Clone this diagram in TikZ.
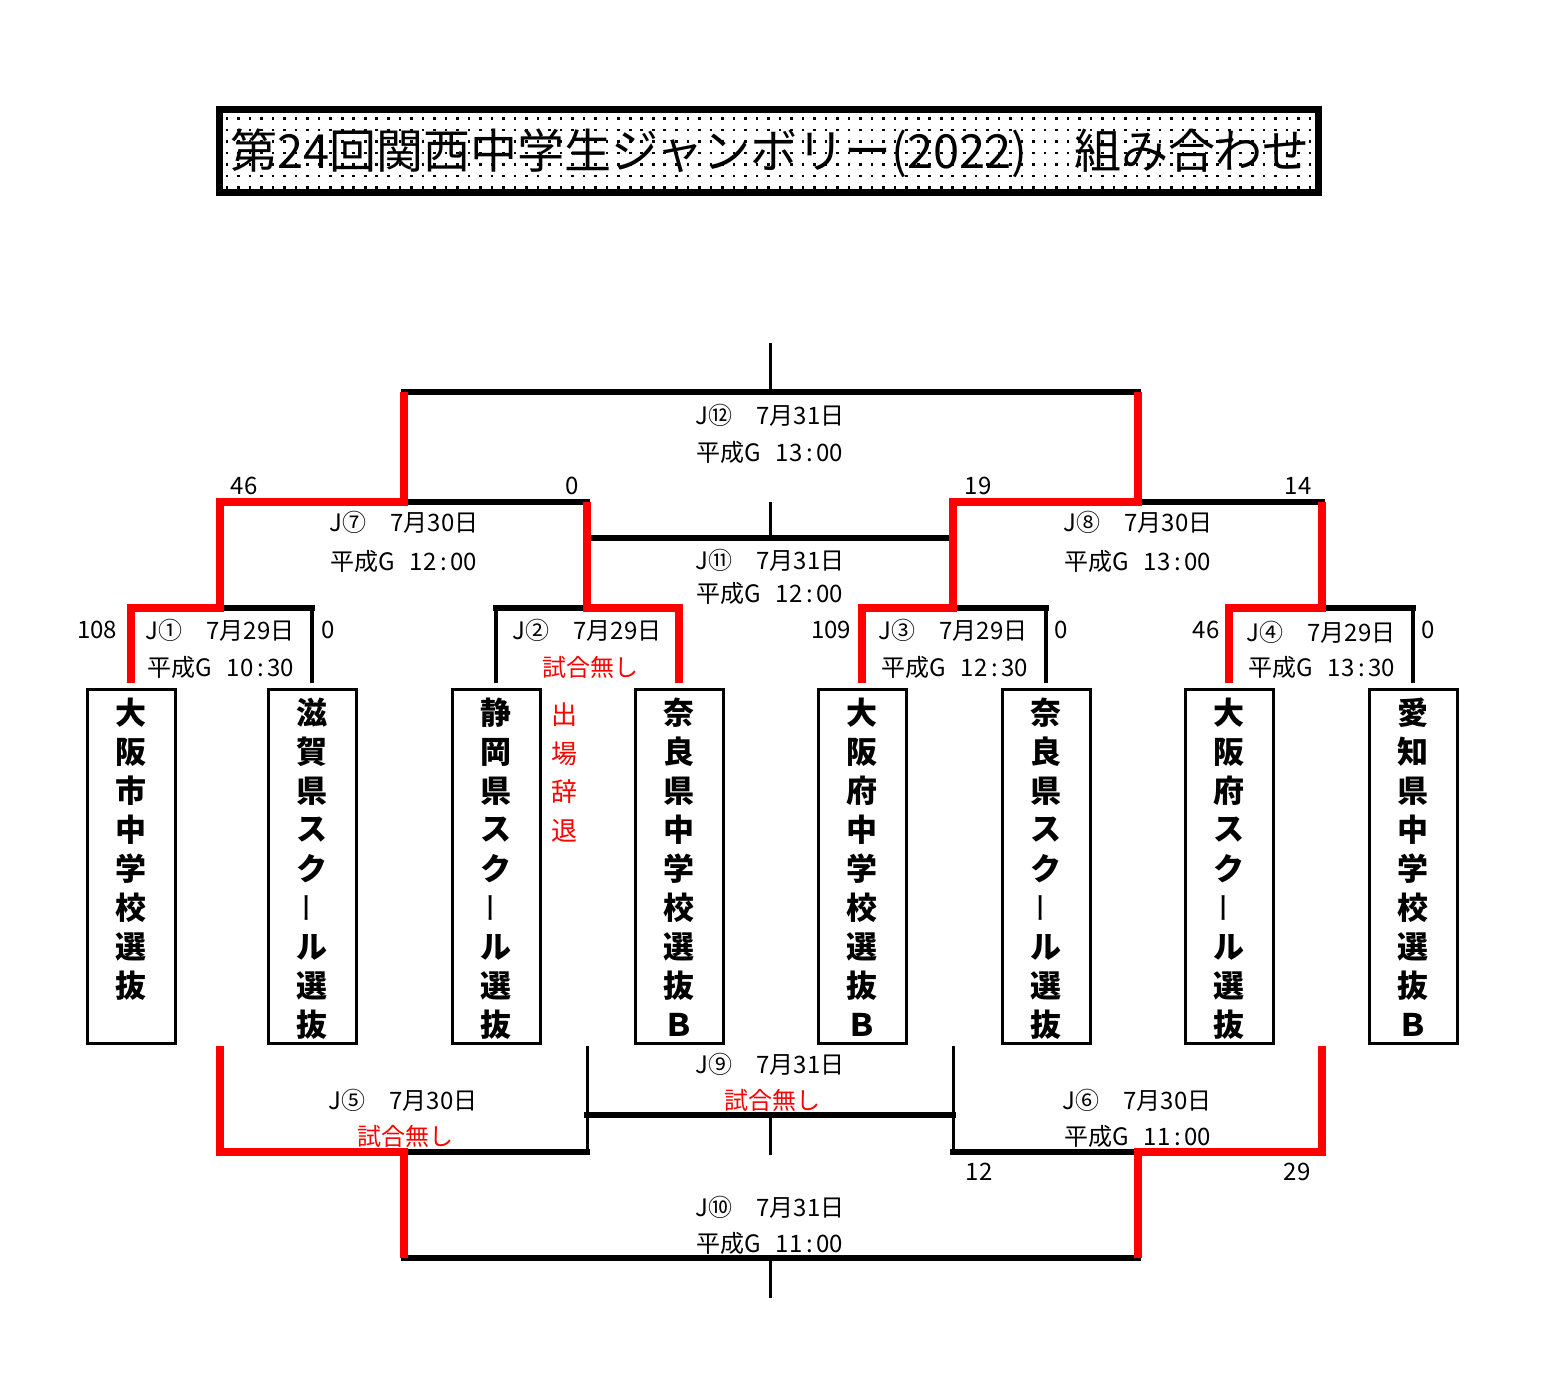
\documentclass[tikz,border=0pt]{standalone}
\usepackage{fontspec}
\setmainfont{Noto Sans CJK JP}
\definecolor{bred}{RGB}{255,0,0}
\newcommand{\heisei}[2]{平成G\hspace{0.6em}#1\kern0.15em:\kern0.15em#2}
\newcommand{\vbar}{{\mdseries\rotatebox{90}{ー}}}
\begin{document}
\begin{tikzpicture}[x=0.5pt,y=-0.5pt,
  rl/.style={draw=bred,line width=4pt,line join=miter},
  bar/.style={draw=black,line width=3pt,line cap=rect},
  bv/.style={draw=black,line width=2pt},
  th/.style={draw=black,line width=1.5pt},
  lbl/.style={font=\fontsize{12pt}{14pt}\selectfont,inner sep=0pt},
  rlbl/.style={lbl,text=bred},
  teambox/.style={draw,line width=1.5pt,minimum width=44pt,minimum height=177pt,inner sep=0pt},
  tch/.style={font=\fontsize{15.5pt}{16pt}\selectfont\bfseries,inner sep=0pt},
  wch/.style={font=\fontsize{13pt}{14pt}\selectfont,inner sep=0pt,text=bred},
]
\useasboundingbox (0,0) rectangle (1544,1395);
% ---------- title ----------
\foreach \xx in {0,...,94}{\foreach \yy in {0,...,6}{
  \fill ({227+11.52*\xx-1.3},{118.5+11.5*\yy-1.3}) rectangle ++(2.6,2.6);}}
\draw[line width=3.5pt] (219.5,109.5) rectangle (1318.5,192.5);
\node[font=\fontsize{23.5pt}{24pt}\selectfont,inner sep=0pt] (title) at (770,153)
  {第24回関西中学生ジャンボリー(2022)　組み合わせ};
% ---------- team boxes ----------
\node[teambox] (b1) at (131,867) {};
\node[teambox] (b2) at (312,867) {};
\node[teambox] (b3) at (496,867) {};
\node[teambox] (b4) at (679,867) {};
\node[teambox] (b5) at (862,867) {};
\node[teambox] (b6) at (1046,867) {};
\node[teambox] (b7) at (1229,867) {};
\node[teambox] (b8) at (1413,867) {};
\foreach \c [count=\i] in {大,阪,市,中,学,校,選,抜}
  \node[tch] (ta\i) at (131,{713+39*(\i-1)}) {\c};
\foreach \c [count=\i] in {滋,賀,県,ス,ク,\vbar,ル,選,抜}
  \node[tch] (tb\i) at (312,{713+39*(\i-1)}) {\c};
\foreach \c [count=\i] in {静,岡,県,ス,ク,\vbar,ル,選,抜}
  \node[tch] (tc\i) at (496,{713+39*(\i-1)}) {\c};
\foreach \c [count=\i] in {奈,良,県,中,学,校,選,抜,Ｂ}
  \node[tch] (td\i) at (679,{713+39*(\i-1)}) {\c};
\foreach \c [count=\i] in {大,阪,府,中,学,校,選,抜,Ｂ}
  \node[tch] (te\i) at (862,{713+39*(\i-1)}) {\c};
\foreach \c [count=\i] in {奈,良,県,ス,ク,\vbar,ル,選,抜}
  \node[tch] (tf\i) at (1046,{713+39*(\i-1)}) {\c};
\foreach \c [count=\i] in {大,阪,府,ス,ク,\vbar,ル,選,抜}
  \node[tch] (tg\i) at (1229,{713+39*(\i-1)}) {\c};
\foreach \c [count=\i] in {愛,知,県,中,学,校,選,抜,Ｂ}
  \node[tch] (th\i) at (1413,{713+39*(\i-1)}) {\c};
\foreach \c [count=\i] in {出,場,辞,退}
  \node[wch] (wd\i) at (564,{715+38.5*(\i-1)}) {\c};
% ---------- coordinates ----------
\coordinate (top) at (770,343);
\coordinate (j12) at (770,392);
\coordinate (j7) at (404,502);
\coordinate (j8) at (1138,502);
\coordinate (j11t) at (770,502);
\coordinate (j11) at (770,538);
\coordinate (j1) at (220,608);
\coordinate (j2) at (587,608);
\coordinate (j3) at (953,608);
\coordinate (j4) at (1322,608);
\coordinate (q5l) at (220,1046);
\coordinate (q5r) at (587,1046);
\coordinate (q6l) at (953,1046);
\coordinate (q6r) at (1322,1046);
\coordinate (j9) at (770,1115);
\coordinate (j9b) at (770,1155);
\coordinate (j5) at (404,1152);
\coordinate (j6) at (1138,1152);
\coordinate (j10) at (770,1258);
\coordinate (j10b) at (770,1298);
% ---------- black lines ----------
\draw[th] (top) -- (j12);
\draw[bar] (j7 |- j12) -- (j8 |- j12);
\draw[bar] (j1 |- j7) -- (j2 |- j7);
\draw[bar] (j3 |- j8) -- (j4 |- j8);
\draw[th] (j11t) -- (j11);
\draw[bar] (j2 |- j11) -- (j3 |- j11);
\draw[bar] (b1 |- j1) -- (b2 |- j1);
\draw[bar] (b3 |- j2) -- (b4 |- j2);
\draw[bar] (b5 |- j3) -- (b6 |- j3);
\draw[bar] (b7 |- j4) -- (b8 |- j4);
\draw[bv,shorten <=2.5pt] (b2.north) -- (b2 |- j1);
\draw[bv,shorten <=2.5pt] (b3.north) -- (b3 |- j2);
\draw[bv,shorten <=2.5pt] (b6.north) -- (b6 |- j3);
\draw[bv,shorten <=2.5pt] (b8.north) -- (b8 |- j4);
% bottom
\draw[th] (q5r) -- (q5r |- j5);
\draw[th] (q6l) -- (q6l |- j6);
\draw[bar] (q5r |- j9) -- (q6l |- j9);
\draw[th] (j9) -- (j9b);
\draw[bar] (q5l |- j5) -- (q5r |- j5);
\draw[bar] (q6l |- j6) -- (q6r |- j6);
\draw[bar] (j5 |- j10) -- (j6 |- j10);
\draw[th] (j10) -- (j10b);
% ---------- red lines ----------
\draw[rl,shorten <=2.5pt] (b1.north) |- (j1) |- (j7) -- (j7 |- j12);
\draw[rl,shorten <=2.5pt] (b4.north) |- (j2) -- (j2 |- j7);
\draw[rl,shorten <=2.5pt] (b5.north) |- (j3) |- (j8) -- (j8 |- j12);
\draw[rl,shorten <=2.5pt] (b7.north) |- (j4) -- (j4 |- j8);
\draw[rl] (q5l) |- (j5) -- (j5 |- j10);
\draw[rl] (q6r) |- (j6) -- (j6 |- j10);
% ---------- labels ----------
\node[lbl] (l12a) at (770,415) {J⑫　7月31日};
\node[lbl] (l12b) at (770,452) {\heisei{13}{00}};
\node[lbl] (l11a) at (770,560) {J⑪　7月31日};
\node[lbl] (l11b) at (770,593) {\heisei{12}{00}};
\node[lbl] (l7a) at (404,522) {J⑦　7月30日};
\node[lbl] (l7b) at (404,561) {\heisei{12}{00}};
\node[lbl] (l8a) at (1138,522) {J⑧　7月30日};
\node[lbl] (l8b) at (1138,561) {\heisei{13}{00}};
\node[lbl] (l1a) at (220,630) {J①　7月29日};
\node[lbl] (l1b) at (221,667) {\heisei{10}{30}};
\node[lbl] (l2a) at (587,630) {J②　7月29日};
\node[rlbl] (l2b) at (590,667) {試合無し};
\node[lbl] (l3a) at (953,630) {J③　7月29日};
\node[lbl] (l3b) at (955,667) {\heisei{12}{30}};
\node[lbl] (l4a) at (1321,632) {J④　7月29日};
\node[lbl] (l4b) at (1322,667) {\heisei{13}{30}};
\node[lbl] (s1) at (244,486) {46};
\node[lbl] (s2) at (572,486) {0};
\node[lbl] (s3) at (978,486) {19};
\node[lbl] (s4) at (1298,486) {14};
\node[lbl] (s5) at (97,630) {108};
\node[lbl] (s6) at (328,630) {0};
\node[lbl] (s7) at (831,630) {109};
\node[lbl] (s8) at (1061,630) {0};
\node[lbl] (s9) at (1206,630) {46};
\node[lbl] (s10) at (1428,630) {0};
\node[lbl] (l9a) at (770,1064) {J⑨　7月31日};
\node[rlbl] (l9b) at (772,1100) {試合無し};
\node[lbl] (l5a) at (403,1100) {J⑤　7月30日};
\node[rlbl] (l5b) at (405,1136) {試合無し};
\node[lbl] (l6a) at (1137,1100) {J⑥　7月30日};
\node[lbl] (l6b) at (1138,1136) {\heisei{11}{00}};
\node[lbl] (s11) at (979,1172) {12};
\node[lbl] (s12) at (1297,1172) {29};
\node[lbl] (l10a) at (770,1207) {J⑩　7月31日};
\node[lbl] (l10b) at (770,1243) {\heisei{11}{00}};
\end{tikzpicture}
\end{document}
